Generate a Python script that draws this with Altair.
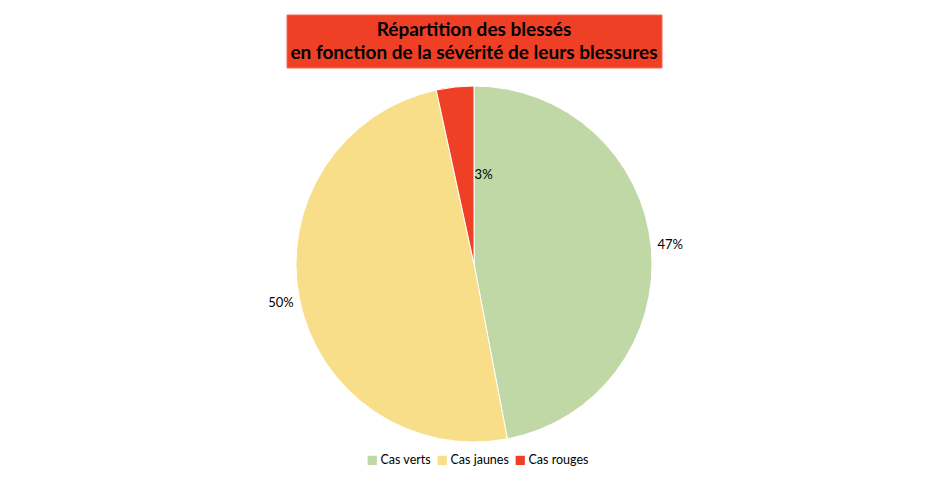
import altair as alt
import pandas as pd

categories = ["Cas verts", "Cas jaunes", "Cas rouges"]
values = [47.0, 49.6, 3.4]
labels = ["47%", "50%", "3%"]
colors = ["#BFD8A6", "#F9DE8A", "#EF4026"]
title_lines = ["Répartition des blessés", "en fonction de la sévérité de leurs blessures"]

df = pd.DataFrame({"cat": categories, "val": values, "lab": labels, "idx": list(range(len(categories)))})

CX, CY, R = 466, 256, 178

base = alt.Chart(df).encode(
    theta=alt.Theta("val:Q", stack=True),
    order=alt.Order("idx:Q"),
)

pie = base.mark_arc(radius=R, stroke="white", strokeWidth=1).encode(
    x=alt.value(CX), y=alt.value(CY),
    color=alt.Color("cat:N", sort=categories,
                    scale=alt.Scale(domain=categories, range=colors),
                    legend=alt.Legend(title=None, orient="none", direction="horizontal",
                                      legendX=358, legendY=446, symbolType="square",
                                      symbolSize=85, symbolStrokeWidth=0,
                                      labelFont="Lato", labelFontSize=12.5, labelColor="#000000",
                                      columnPadding=5, symbolOffset=0, labelOffset=2)),
)

outer = base.mark_text(radius=197, font="Lato", fontSize=13, color="black").encode(
    x=alt.value(CX), y=alt.value(CY), text="lab:N"
).transform_filter(alt.datum.cat != "Cas rouges")

inner = base.mark_text(radius=90, font="Lato", fontSize=13, color="black").encode(
    x=alt.value(CX), y=alt.value(CY), text="lab:N"
).transform_filter(alt.datum.cat == "Cas rouges")

box = alt.Chart(pd.DataFrame({"a": [0]})).mark_rect(color="#EF4026", stroke="#F26B50", strokeWidth=1).encode(
    x=alt.value(279), x2=alt.value(654), y=alt.value(7), y2=alt.value(60)
)

ttl = alt.Chart(pd.DataFrame({"a": [0]})).mark_text(
    text=title_lines, font="Lato", fontSize=19, fontWeight="bold", color="black",
    align="center", baseline="middle", lineHeight=23
).encode(x=alt.value(466), y=alt.value(22))

chart = alt.layer(pie, outer, inner, box, ttl).properties(
    width=934, height=466, autosize=alt.AutoSizeParams(type="none"), padding=0
).configure_view(stroke=None)

chart.save("out.html", embed_options={"renderer": "svg", "actions": False})
